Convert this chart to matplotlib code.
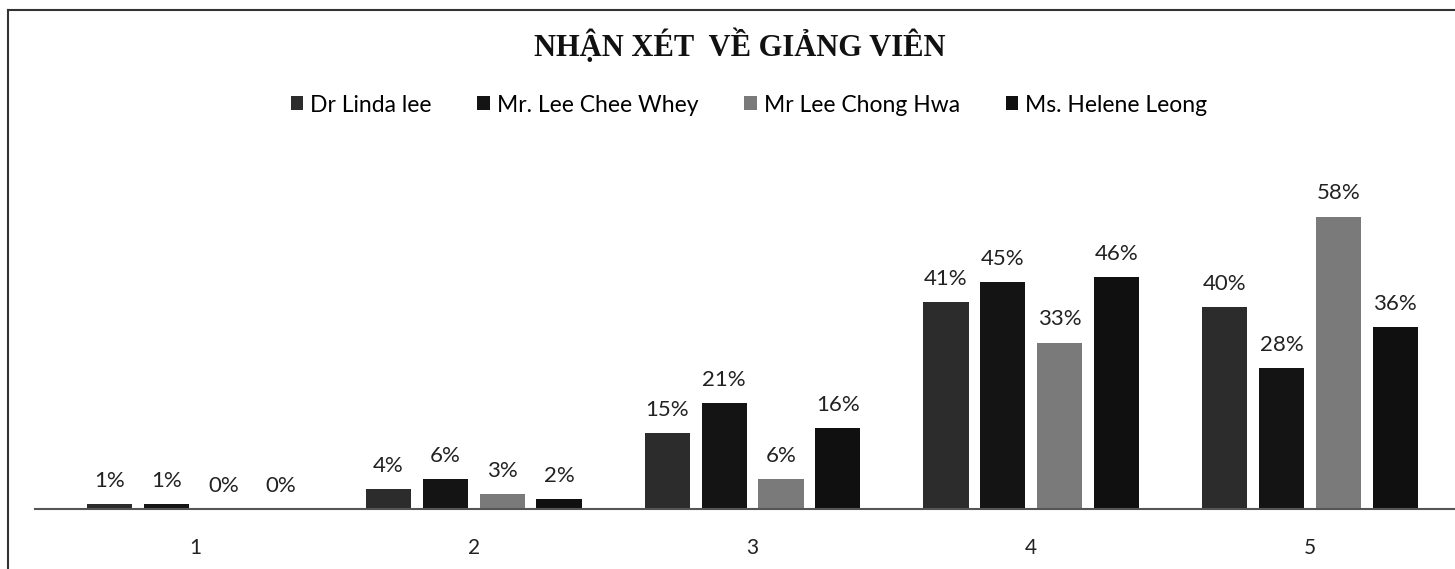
import matplotlib

matplotlib.use('agg')
import matplotlib.pyplot as plt
from matplotlib.lines import Line2D
import numpy as np

categories = ['1', '2', '3', '4', '5']
teachers = ['Dr Linda lee', 'Mr. Lee Chee Whey', 'Mr Lee Chong Hwa', 'Ms. Helene Leong']
linda = [1, 4, 15, 41, 40]
chee_whey = [1, 6, 21, 45, 28]
chong_hwa = [0, 3, 6, 33, 58]
helene = [0, 2, 16, 46, 36]
colors = ['#2c2c2c', '#141414', '#7a7a7a', '#101010']

W, H = 1455, 569
fig = plt.figure(figsize=(W / 100, H / 100), dpi=100)
fig.patch.set_facecolor('white')

ax = fig.add_axes([35 / W, (H - 509) / H, 1 - 35 / W, (509 - 156) / H])

x = np.arange(1, len(categories) + 1)
pitch = 0.204
width = 0.162
series = [linda, chee_whey, chong_hwa, helene]
for i, (name, vals) in enumerate(zip(teachers, series)):
    pos = x + (i - 1.5) * pitch
    bars = ax.bar(pos, vals, width, color=colors[i], label=name)
    for b, v in zip(bars, vals):
        ax.text(b.get_x() + b.get_width() / 2, v + 2.6, f'{v}%',
                ha='center', va='bottom', fontsize=16, family='Lato', color='#222222')

ax.set_xlim(0.426, 5.52)
ax.set_ylim(0, 70)
ax.set_xticks(x)
ax.set_xticklabels(categories, fontsize=15, family='Lato', color='#222222')
ax.tick_params(axis='x', length=0, pad=21)
ax.set_yticks([])
for s in ['top', 'right', 'left']:
    ax.spines[s].set_visible(False)
ax.spines['bottom'].set_color('#555555')
ax.spines['bottom'].set_linewidth(1.5)
ax.patch.set_alpha(0)

fig.text(740 / W, 1 - 46 / H, 'NHẬN XÉT  VỀ GIẢNG VIÊN', ha='center', va='center',
         fontsize=22, fontweight='bold', family='Liberation Serif', color='#111111')

fig.legend(loc='center', bbox_to_anchor=(749 / W, 1 - 105 / H), ncol=4, frameon=False,
           prop={'family': 'Lato', 'size': 16.5}, handlelength=0.55, handleheight=0.55,
           handletextpad=0.3, columnspacing=2.0)

# outer frame of the scanned chart
fig.add_artist(Line2D([8 / W, 8 / W], [0, 1 - 10 / H], transform=fig.transFigure,
                      color='#333333', lw=1.5))
fig.add_artist(Line2D([8 / W, 1], [1 - 10 / H, 1 - 10 / H], transform=fig.transFigure,
                      color='#333333', lw=1.5))

fig.savefig('out.png', dpi=100)
